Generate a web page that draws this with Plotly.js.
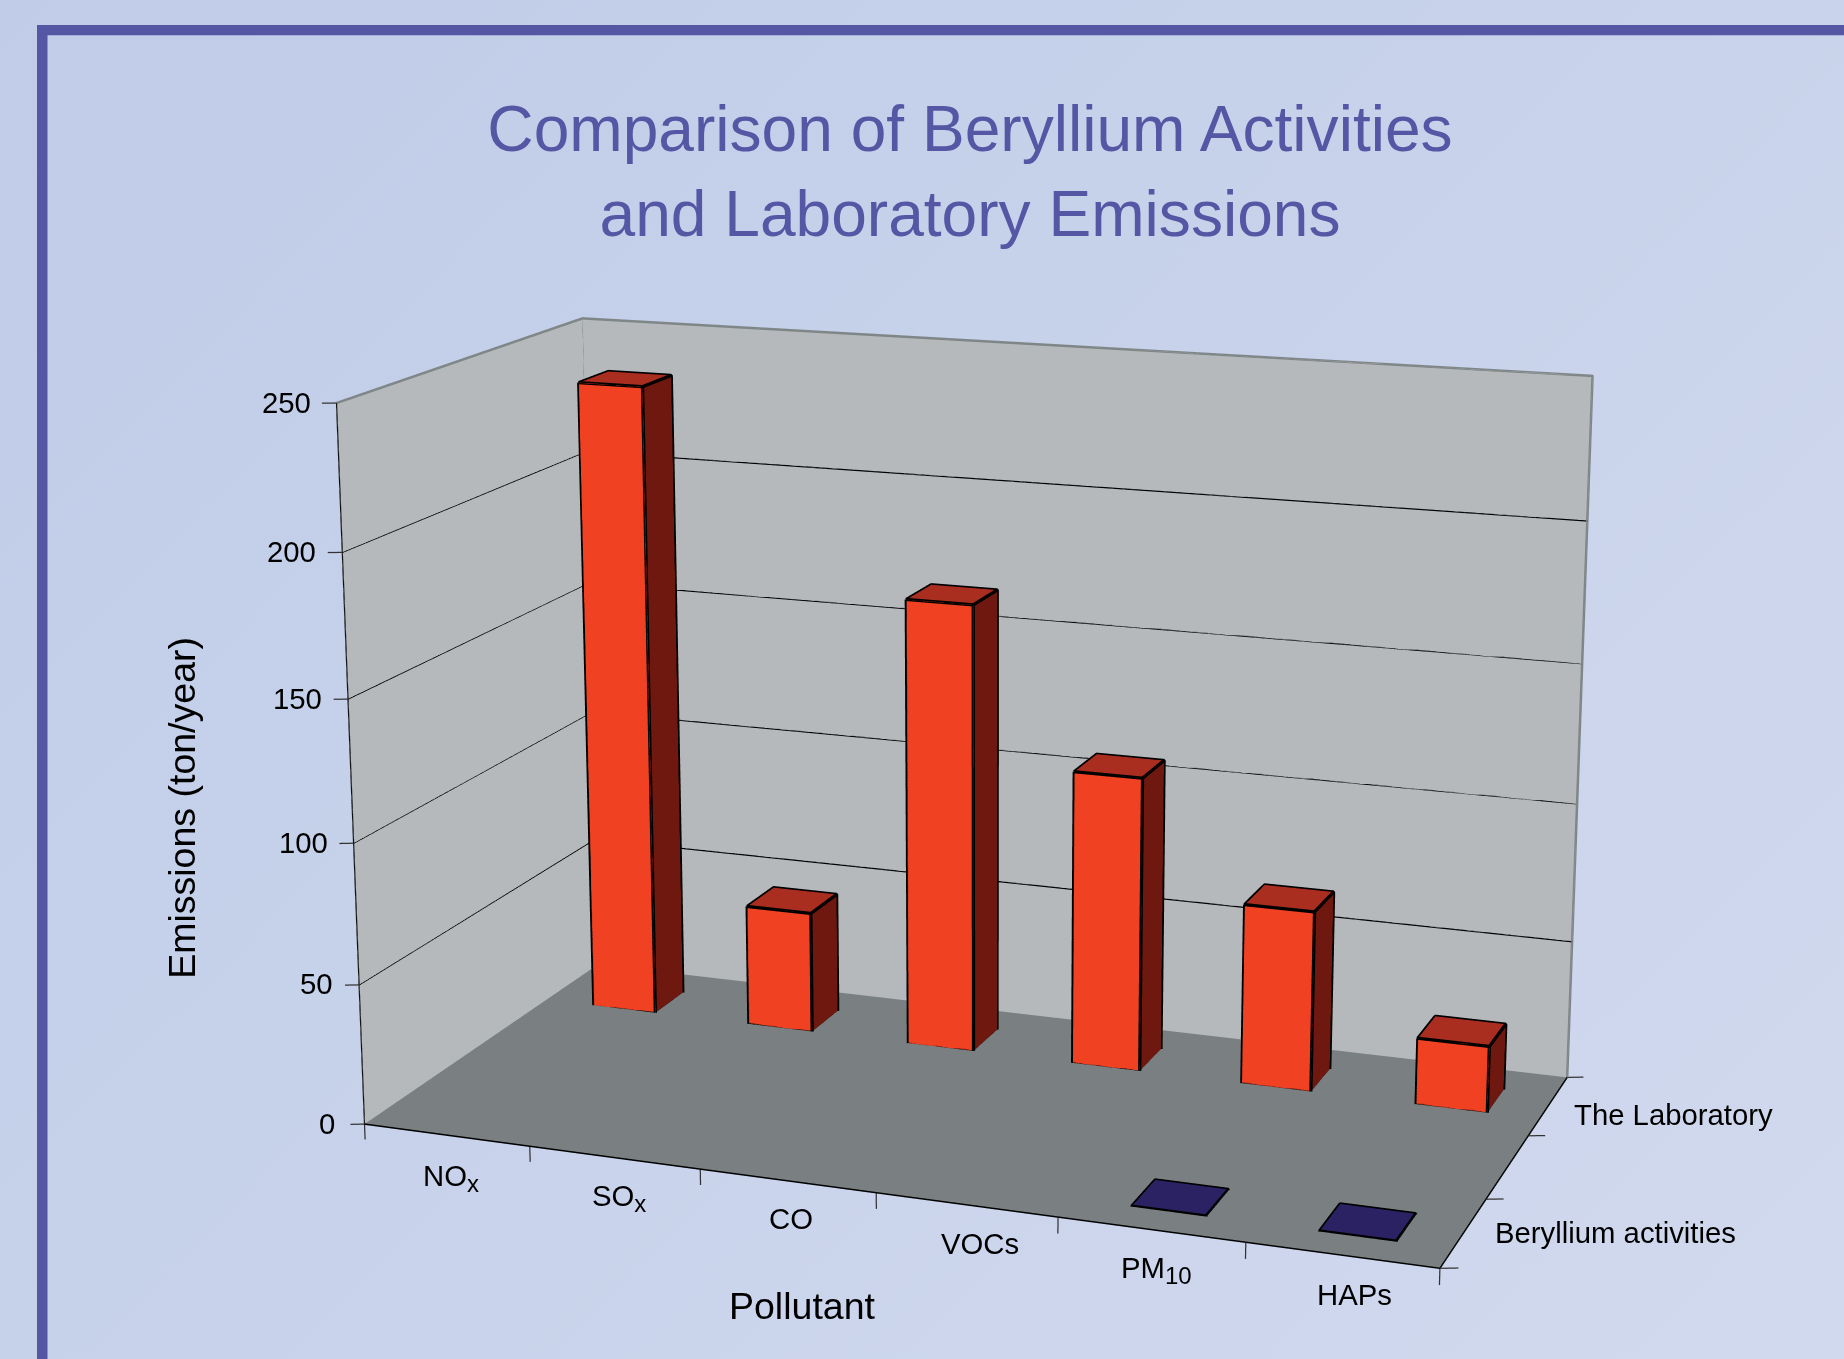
<!DOCTYPE html>
<html><head><meta charset="utf-8"><script src="https://cdn.plot.ly/plotly-3.0.1.min.js"></script>
<style>html,body{margin:0;padding:0;overflow:hidden;background:linear-gradient(135deg,#c0cce8 0%,#c6d1ea 40%,#d1d9ee 100%);width:1844px;height:1359px}</style></head>
<body><div id="chart" style="width:1844px;height:1359px"></div>
<script>
const SUB=t=>'<sub><span style="font-size:24px">'+t+'</span></sub>';
const categories=['NO'+SUB('x'),'SO'+SUB('x'),'CO','VOCs','PM'+SUB('10'),'HAPs'];
const rows=['Beryllium activities','','The Laboratory'];
const zTicks=[0,50,100,150,200,250];
const laboratory=[234.5,45,164.5,107.5,65.5,24];
const beryllium=[0,0,0,0,0.15,0.15];
const catShift=[[5,-43],[5,-40],[3,-38],[14,-39],[5,-40],[12,-39.5]];
const FONT='"Liberation Sans",Arial,sans-serif', FRONT='#f04122', SIDE='#6f180f', TOP='#a92e20', BLUE='#2b2264';
const flat={ambient:1,diffuse:0,specular:0,roughness:1,fresnel:0};
var traces=[];
function quad(pts,color){ // pts: four corners in data units
 traces.push({type:'mesh3d',x:pts.map(p=>p[0]),y:pts.map(p=>p[1]),z:pts.map(p=>p[2]),i:[0,0],j:[1,2],k:[2,3],color:color,flatshading:true,lighting:flat,hoverinfo:'skip',showscale:false});}
function lines(segs,color,width){var x=[],y=[],z=[];segs.forEach(s=>{s.forEach(p=>{x.push(p[0]);y.push(p[1]);z.push(p[2])});x.push(null);y.push(null);z.push(null)});
 traces.push({type:'scatter3d',mode:'lines',x:x,y:y,z:z,line:{color:color,width:width},hoverinfo:'skip',showlegend:false,connectgaps:false});}
// walls and floor
quad([[0,0,0],[0,3,0],[0,3,250],[0,0,250]],'#b5b9bc');
quad([[0,3,0],[6,3,0],[6,3,250],[0,3,250]],'#b5b9bc');
quad([[0,0,0],[6,0,0],[6,3,0],[0,3,0]],'#7a8081');
// gridlines
lines(zTicks.slice(1,5).map(z=>[[0,0,z],[0,3,z],[6,3,z]]),'#000',2.5);
lines([[[0,0,250],[0,3,250],[6,3,250],[6,3,0]],[[0,3,250],[0,3,0]]],'#7f8688',5);
lines([[[0,0,0],[0,0,250]]],'#111',2.5);
lines([[[0,0,0],[6,0,0],[6,3,0]]],'#000',3);
// tick marks
lines(zTicks.map(z=>[[0,0,z],[-.07,-.03,z]]),'#333',2.5);
lines([0,1,2,3,4,5,6].map(x=>[[x,0,0],[x,0,-5.6]]),'#333',2.5);
lines([0,1,2,3].map(y=>[[6,y,0],[6.085,y+.035,0]]),'#333',2.5);
// bars
function bar(i,j,v,cf,cs,ct,f){var a=i+.31,b=i+.71,d=j+f,e=d+.4;
 quad([[a,d,0],[b,d,0],[b,d,v],[a,d,v]],cf);
 quad([[b,d,0],[b,e,0],[b,e,v],[b,d,v]],cs);
 quad([[a,d,v],[b,d,v],[b,e,v],[a,e,v]],ct);
 lines([[[a,d,v],[a,d,0],[b,d,0],[b,d,v],[a,d,v],[a,e,v],[b,e,v],[b,e,0],[b,d,0]],[[b,d,v],[b,e,v]]],'#000',6.5);}
laboratory.forEach((v,i)=>bar(i,2,v,FRONT,SIDE,TOP,.28));
beryllium.forEach((v,i)=>{if(v>0)bar(i,0,v,BLUE,BLUE,BLUE,.27)});
// labels
var ann=[];
const tf={family:FONT,size:29.3,color:'#000'};
zTicks.forEach(z=>ann.push({x:0,y:0,z:z,text:String(z),showarrow:false,xanchor:'right',yanchor:'middle',xshift:z?-24:-27,yshift:1,font:tf}));
categories.forEach((c,i)=>ann.push({x:i+.5,y:0,z:0,text:c,showarrow:false,xanchor:'center',yanchor:'middle',xshift:catShift[i][0],yshift:catShift[i][1],font:tf}));
ann.push({x:6,y:2.5,z:0,text:rows[2],showarrow:false,xanchor:'left',yanchor:'middle',xshift:23.5,yshift:-9,font:tf});
ann.push({x:6,y:.5,z:0,text:rows[0],showarrow:false,xanchor:'left',yanchor:'middle',xshift:29.6,yshift:1,font:tf});
const ax={visible:false};
const layout={width:1844,height:1359,margin:{l:0,r:0,t:0,b:0},paper_bgcolor:'rgba(0,0,0,0)',plot_bgcolor:'rgba(0,0,0,0)',showlegend:false,
 title:{text:'Comparison of Beryllium Activities<br>and Laboratory Emissions',font:{family:FONT,size:64.1,color:'#5556a4'},x:970/1844,xanchor:'center',xref:'paper',y:1-150.5/1359,yanchor:'top',yref:'paper'},
 scene:{domain:{x:[0,1],y:[0,1]},bgcolor:'rgba(0,0,0,0)',
  xaxis:Object.assign({range:[-1,7]},ax),yaxis:Object.assign({range:[-1,4]},ax),zaxis:Object.assign({range:[-50,300]},ax),
  aspectmode:'manual',aspectratio:{x:2.6667,y:1.6675,z:1.8628},
  camera:{eye:{x:2.4466,y:-6.7296,z:1.9195},center:{x:-.0636,y:-.098,z:.1537},up:{x:.0398,y:-.0948,z:1}},annotations:ann},
 annotations:[
  {xref:'paper',yref:'paper',x:802/1844,y:1-1328.5/1359,text:'Pollutant',showarrow:false,font:{family:FONT,size:37.5,color:'#000'}},
  {xref:'paper',yref:'paper',x:158.8/1844,y:1-808/1359,text:'Emissions (ton/year)',textangle:-90,showarrow:false,font:{family:FONT,size:37.5,color:'#000'}}],
 shapes:[
  {type:'rect',xref:'paper',yref:'paper',x0:37/1844,x1:47.5/1844,y0:0,y1:1-25/1359,fillcolor:'#5556a4',line:{width:0}},
  {type:'rect',xref:'paper',yref:'paper',x0:37/1844,x1:1,y0:1-35.3/1359,y1:1-25/1359,fillcolor:'#5556a4',line:{width:0}}]};
Plotly.newPlot('chart',traces,layout,{displayModeBar:false}).then(gd=>{
 var gl=gd._fullLayout.scene._scene.glplot;gl.fovy=0.3286;gl.redraw();
 var ts=gd.querySelectorAll('.gtitle .line');if(ts[1])ts[1].setAttribute('dy','1.34em');
});
</script></body></html>
